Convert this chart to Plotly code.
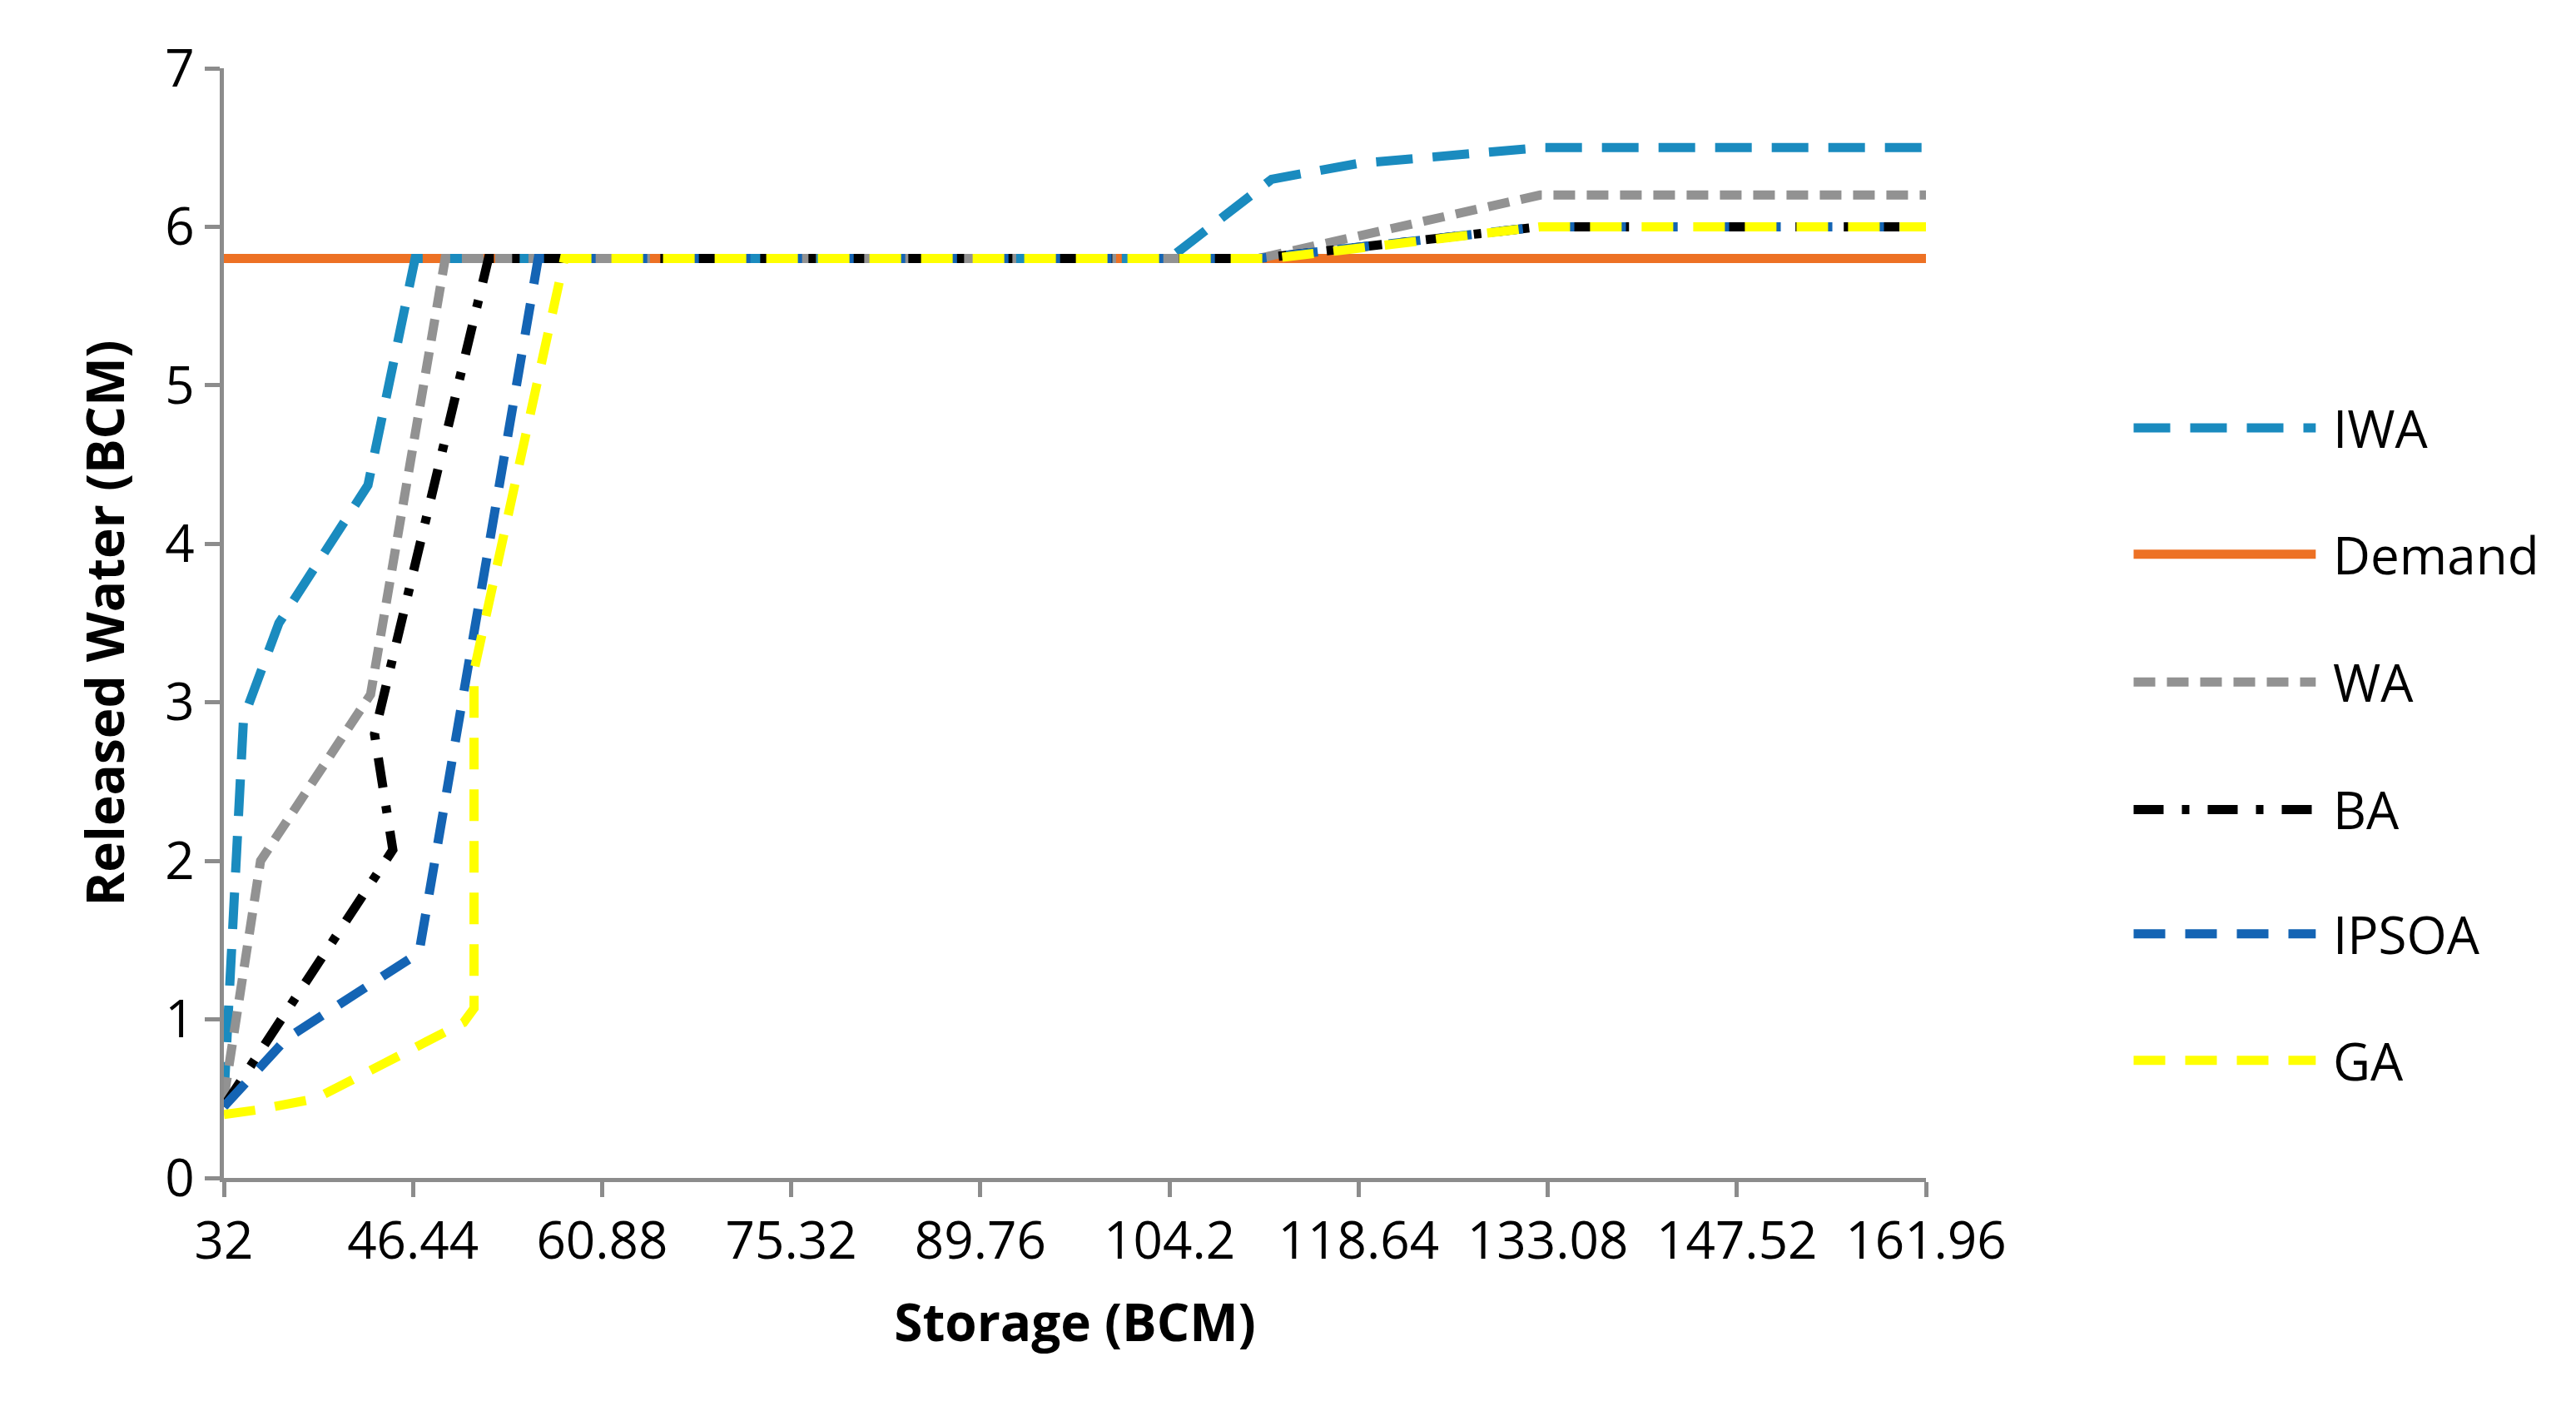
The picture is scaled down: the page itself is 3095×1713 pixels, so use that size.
import plotly.graph_objects as go

# Storage (BCM) and released water (BCM) per series
iwa_x = [32, 33.5, 36.2, 43.0, 46.6, 104.2, 112.0, 118.64, 132.7, 161.96]
iwa_y = [0.5, 2.9, 3.5, 4.37, 5.8, 5.8, 6.3, 6.4, 6.5, 6.5]
demand_x = [32, 161.96]
demand_y = [5.8, 5.8]
wa_x = [32, 34.8, 43.2, 48.9, 111.0, 132.5, 161.96]
wa_y = [0.5, 2.0, 3.05, 5.8, 5.8, 6.2, 6.2]
ba_x = [32, 44.9, 43.5, 52.2, 111.0, 132.5, 161.96]
ba_y = [0.45, 2.07, 2.8, 5.8, 5.8, 6.0, 6.0]
ipsoa_x = [32, 36.8, 46.9, 56.0, 111.0, 132.5, 161.96]
ipsoa_y = [0.45, 0.88, 1.42, 5.8, 5.8, 6.0, 6.0]
ga_x = [32, 34.6, 39.0, 50.3, 51.1, 51.1, 58.0, 112.0, 132.5, 161.96]
ga_y = [0.4, 0.43, 0.5, 0.98, 1.07, 3.2, 5.8, 5.8, 6.0, 6.0]
tick_vals = [32, 46.44, 60.88, 75.32, 89.76, 104.2, 118.64, 133.08, 147.52, 161.96]
tick_text = ["32", "46.44", "60.88", "75.32", "89.76", "104.2", "118.64", "133.08", "147.52", "161.96"]

series = [
    ("IWA", iwa_x, iwa_y, "#1a8bbf"),
    ("Demand", demand_x, demand_y, "#ed7124"),
    ("WA", wa_x, wa_y, "#929292"),
    ("BA", ba_x, ba_y, "#000000"),
    ("IPSOA", ipsoa_x, ipsoa_y, "#1464b4"),
    ("GA", ga_x, ga_y, "#ffff00"),
]
dash_style = {"IWA": "44px,24px", "WA": "26px,14px", "BA": "36px,22px,9px,22px",
              "IPSOA": "38px,24px", "GA": "38px,24px", "Demand": "solid"}

fig = go.Figure()
# draw order: demand at back, GA on top
for name in ["Demand", "IWA", "WA", "BA", "IPSOA", "GA"]:
    s = [t for t in series if t[0] == name][0]
    fig.add_trace(go.Scatter(x=s[1], y=s[2], name=name, mode="lines",
                             line=dict(color=s[3], width=11, dash=dash_style[name]),
                             showlegend=False))

# manual legend
leg_y = [0.676, 0.562, 0.447, 0.332, 0.22, 0.106]
for (name, _, _, color), yy in zip(series, leg_y):
    fig.add_shape(type="line", xref="paper", yref="paper", x0=1.122, x1=1.229, y0=yy, y1=yy,
                  line=dict(color=color, width=11, dash=dash_style[name]))
    fig.add_annotation(xref="paper", yref="paper", x=1.238, y=yy, text=name, showarrow=False,
                       xanchor="left", yanchor="middle", font=dict(size=62, color="black"))

fig.update_layout(
    width=3095, height=1713,
    margin=dict(l=261, r=789, t=74, b=306),
    plot_bgcolor="white", paper_bgcolor="white",
    font=dict(family="Open Sans, Calibri, sans-serif", size=62, color="black"),
    xaxis=dict(range=[32, 161.96], tickvals=tick_vals, ticktext=tick_text, showgrid=False,
               zeroline=False, showline=True, linecolor="#8c8c8c", linewidth=5,
               ticks="outside", tickcolor="#8c8c8c", tickwidth=5, ticklen=18,
               tickfont=dict(size=62),
               title=dict(text="<b>Storage (BCM)</b>", font=dict(size=62), standoff=40)),
    yaxis=dict(range=[0, 7], dtick=1, showgrid=False, zeroline=False, showline=True,
               linecolor="#8c8c8c", linewidth=5, ticks="outside", tickcolor="#8c8c8c",
               tickwidth=5, ticklen=18, tickfont=dict(size=62),
               title=dict(text="<b>Released Water (BCM)</b>", font=dict(size=62), standoff=30)),
)
fig.write_html("out.html")
